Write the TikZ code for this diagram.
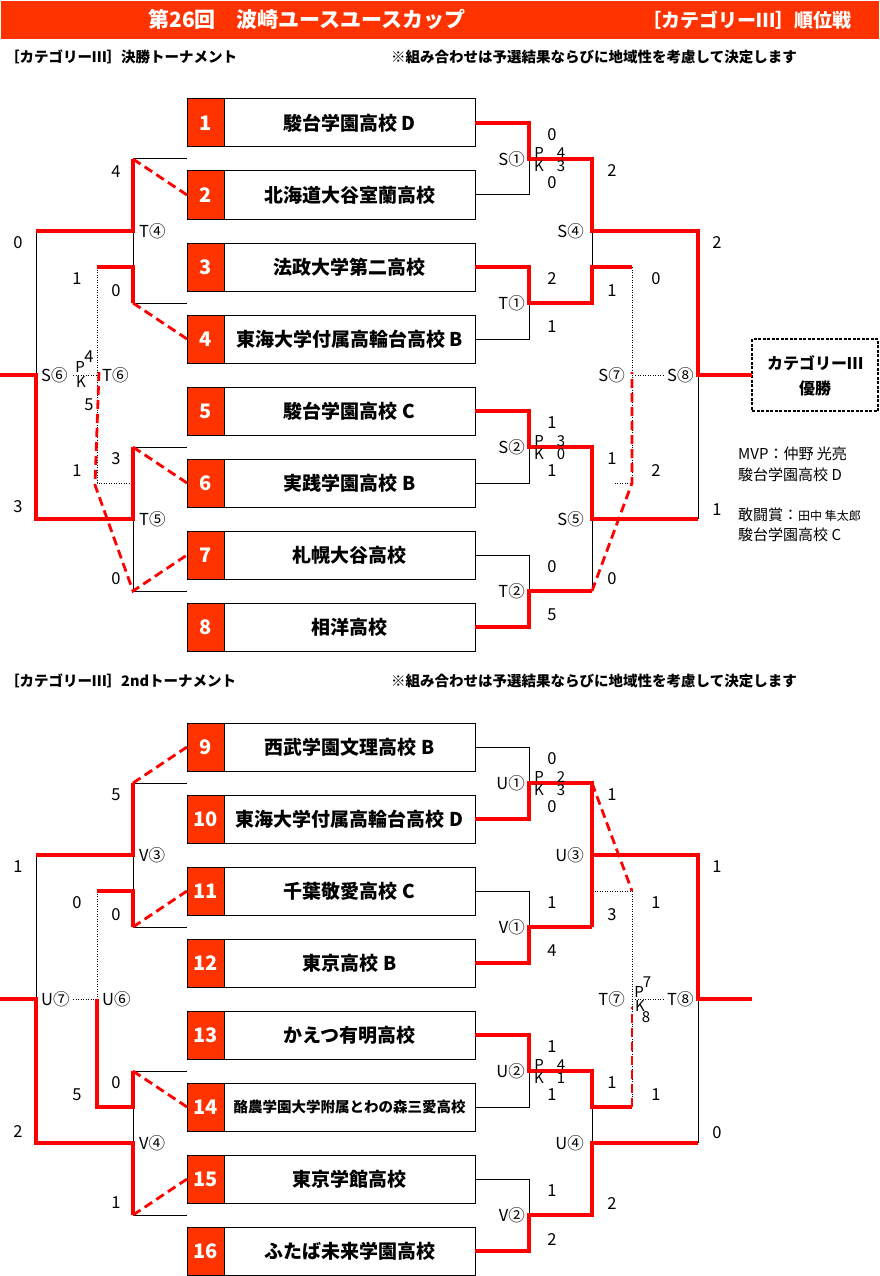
\documentclass[tikz,border=0pt]{standalone}
\usepackage{fontspec}
\setmainfont{Noto Sans CJK JP}
\definecolor{orr}{HTML}{FF3300}
\tikzset{
  bk/.style={draw=black, line width=1pt},
  rd/.style={draw=red, line width=3.2pt, line join=miter},
  rdash/.style={draw=red, line width=2.8pt, dash pattern=on 9pt off 5pt},
  dotl/.style={draw=black, line width=1pt, dash pattern=on 1pt off 1.5pt},
  tbox/.style={draw=black, line width=1pt, minimum width=288pt, minimum height=48pt, inner sep=0pt, outer sep=0pt},
  nbox/.style={draw=black, fill=orr, line width=1pt, minimum width=37pt, minimum height=48pt, inner sep=0pt, outer sep=0pt, text=white, font=\fontsize{20}{20}\selectfont\bfseries},
  tname/.style={inner sep=0pt, font=\fontsize{19}{19}\selectfont\bfseries},
  lbl/.style={inner sep=0pt, font=\fontsize{16.5}{16.5}\selectfont},
  sc/.style={inner sep=0pt, font=\fontsize{16.5}{16.5}\selectfont},
  pk/.style={inner sep=0pt, font=\fontsize{15}{15}\selectfont},
  info/.style={inner sep=0pt, anchor=west, font=\fontsize{15}{15}\selectfont},
}
\begin{document}
\begin{tikzpicture}[x=1pt,y=-1pt]
\useasboundingbox (0,0) rectangle (879,1276);
% title
\fill[orr] (1,1) rectangle (879,39);
\node[inner sep=0pt, text=white, font=\fontsize{21}{21}\selectfont\bfseries] (title) at (307,20) {第26回　波崎ユースユースカップ};
\node[inner sep=0pt, text=white, font=\fontsize{19}{19}\selectfont\bfseries, anchor=east] (title2) at (852,20) {［カテゴリーⅢ］順位戦};
\node[inner sep=0pt, anchor=west, font=\fontsize{14.5}{14.5}\selectfont\bfseries] (sub1) at (5,57) {［カテゴリーⅢ］決勝トーナメント};
\node[inner sep=0pt, anchor=west, font=\fontsize{14.5}{14.5}\selectfont\bfseries] (note1) at (391,57) {※組み合わせは予選結果ならびに地域性を考慮して決定します};
\node[inner sep=0pt, anchor=west, font=\fontsize{14.5}{14.5}\selectfont\bfseries] (sub2) at (5,681) {［カテゴリーⅢ］2ndトーナメント};
\node[inner sep=0pt, anchor=west, font=\fontsize{14.5}{14.5}\selectfont\bfseries] (note2) at (391,681) {※組み合わせは予選結果ならびに地域性を考慮して決定します};

% team boxes
\foreach \i/\cy/\nm in {1/123/{駿台学園高校 D},2/195/{北海道大谷室蘭高校},3/267/{法政大学第二高校},4/339/{東海大学付属高輪台高校 B},5/411/{駿台学園高校 C},6/483/{実践学園高校 B},7/555/{札幌大谷高校},8/627/{相洋高校},9/747/{西武学園文理高校 B},10/819/{東海大学付属高輪台高校 D},11/891/{千葉敬愛高校 C},12/963/{東京高校 B},13/1035/{かえつ有明高校},15/1179/{東京学館高校},16/1251/{ふたば未来学園高校}}{
  \node[tbox] (b\i) at (331,\cy) {};
  \node[nbox] (n\i) at (205.5,\cy) {\i};
  \node[tname] (t\i) at (349.5,\cy) {\nm};
}
\node[tbox] (b14) at (331,1107) {};
\node[nbox] (n14) at (205.5,1107) {14};
\node[inner sep=0pt, font=\fontsize{14.5}{14.5}\selectfont\bfseries] (t14) at (349.5,1107) {酪農学園大学附属とわの森三愛高校};

% champion box
\node[draw=black, line width=1.5pt, dash pattern=on 3pt off 1.5pt, minimum width=126pt, minimum height=72pt, inner sep=0pt, outer sep=0pt] (champ) at (815,375) {};
\node[inner sep=0pt, font=\fontsize{16}{16}\selectfont\bfseries] (champ1) at (815,363) {カテゴリーⅢ};
\node[inner sep=0pt, font=\fontsize{16}{16}\selectfont\bfseries] (champ2) at (815,388) {優勝};
\node[info] (mvp1) at (738,454) {MVP：仲野 光亮};
\node[info] (mvp2) at (738,475) {駿台学園高校 D};
\node[info] (fi1) at (738,515) {敢闘賞：{\fontsize{12}{12}\selectfont 田中 隼太郎}};
\node[info] (fi2) at (738,535) {駿台学園高校 C};

% ---------- coordinates top right
\coordinate (S1) at (529,159);
\coordinate (S4) at (592,231);
\coordinate (S4b) at (592,267);
\coordinate (T1) at (529,303);
\coordinate (T1w) at (592,303);
\coordinate (S7t) at (632,267);
\coordinate (S7b) at (632,483);
\coordinate (S7d) at (613,483);
\coordinate (S7m) at (635,375);
\coordinate (S7r) at (663,375);
\coordinate (S7e) at (632,372);
\coordinate (S8) at (698,375);
\coordinate (S8b) at (698,519);
\coordinate (S2) at (529,447);
\coordinate (S5) at (592,519);
\coordinate (T2) at (529,591);
\coordinate (T2w) at (592,591);
% top left
\coordinate (T4t) at (133,159);
\coordinate (T4) at (133,231);
\coordinate (T4c) at (133,267);
\coordinate (T4b) at (133,303);
\coordinate (S6t) at (36,231);
\coordinate (S6) at (36,375);
\coordinate (S6b) at (36,519);
\coordinate (S6in) at (0,375);
\coordinate (S6d) at (73,375);
\coordinate (T6t) at (97,267);
\coordinate (T6) at (97,375);
\coordinate (T6b) at (97,483);
\coordinate (T6r) at (133,483);
\coordinate (T6e) at (99,372);
\coordinate (T6f) at (95,485);
\coordinate (T5t) at (133,447);
\coordinate (T5) at (133,519);
\coordinate (T5b) at (133,591);
% bottom right
\coordinate (U1) at (529,783);
\coordinate (U1w) at (592,783);
\coordinate (U3) at (592,855);
\coordinate (T7t) at (592,891);
\coordinate (T7tr) at (632,891);
\coordinate (V1) at (529,927);
\coordinate (V1w) at (592,927);
\coordinate (T8) at (698,999);
\coordinate (T8b) at (698,1143);
\coordinate (T7) at (635,999);
\coordinate (T7r) at (663,999);
\coordinate (T7b) at (632,1107);
\coordinate (T7e) at (632,1007);
\coordinate (U2) at (529,1071);
\coordinate (U2w) at (592,1071);
\coordinate (U4t) at (592,1107);
\coordinate (U4) at (592,1143);
\coordinate (V2) at (529,1215);
\coordinate (V2w) at (592,1215);
% bottom left
\coordinate (V3t) at (133,783);
\coordinate (V3) at (133,855);
\coordinate (V3c) at (133,891);
\coordinate (V3b) at (133,927);
\coordinate (U7t) at (36,855);
\coordinate (U7) at (36,999);
\coordinate (U7b) at (36,1143);
\coordinate (U7in) at (0,999);
\coordinate (U7d) at (73,999);
\coordinate (U6t) at (97,891);
\coordinate (U6) at (97,999);
\coordinate (U6b) at (97,1107);
\coordinate (V4t) at (133,1071);
\coordinate (V4c) at (133,1107);
\coordinate (V4) at (133,1143);
\coordinate (V4b) at (133,1215);

% ---------- black lines
\draw[bk] (b2.east) -| (S1);
\draw[bk] (S4) -- (S4b);
\draw[bk] (b4.east) -| (T1);
\draw[bk] (S8) -- (S8b);
\draw[bk] (b6.east) -| (S2);
\draw[bk] (S5) -- (T2w);
\draw[bk] (b7.east) -| (T2);
\draw[bk] (T4t) -- ++(54,0);
\draw[bk] (T4b) -- ++(54,0);
\draw[bk] (T5t) -- ++(54,0);
\draw[bk] (T5b) -- ++(54,0);
\draw[bk] (T4) -- (T4c);
\draw[bk] (S6t) -- (S6);
\draw[bk] (T5) -- (T5b);
\draw[bk] (b9.east) -| (U1);
\draw[bk] (b11.east) -| (V1);
\draw[bk] (T8) -- (T8b);
\draw[bk] (b14.east) -| (U2);
\draw[bk] (U4t) -- (U4);
\draw[bk] (b15.east) -| (V2);
\draw[bk] (V3t) -- ++(54,0);
\draw[bk] (V3b) -- ++(54,0);
\draw[bk] (V4t) -- ++(54,0);
\draw[bk] (V4b) -- ++(54,0);
\draw[bk] (V3) -- (V3c);
\draw[bk] (U7t) -- (U7);
\draw[bk] (V4c) -- (V4);

% ---------- dotted lines
\draw[dotl] (S7t) -- (S7b) -- (S7d);
\draw[dotl] (S7m) -- (S7r);
\draw[dotl] (T6t) -- (T6b) -- (T6r);
\draw[dotl] (S6d) -- (T6);
\draw[dotl] (T7t) -- (T7tr) -- (T7b);
\draw[dotl] (T7) -- (T7r);
\draw[dotl] (U6t) -- (U6);
\draw[dotl] (U7d) -- (U6);

% ---------- red lines
\draw[rd] (b1.east) -| (S1) -| (S4) -| (S8) -- (champ.west);
\draw[rd] (b3.east) -| (T1) -- (T1w) -- (S4b) -- (S7t);
\draw[rd] (b5.east) -| (S2) -| (S5) -- (S8b);
\draw[rd] (b8.east) -| (T2) -- (T2w);
\draw[rd] (T4t) -- (T4) -- (S6t);
\draw[rd] (T6t) -- (T4c) -- (T4b);
\draw[rd] (S6in) -- (S6) -- (S6b) -- (T5) -- (T5t);
\draw[rd] (b10.east) -| (U1) -- (U1w) -- (V1w);
\draw[rd] (b12.east) -| (V1) -- (V1w);
\draw[rd] (U3) -| (T8) -- ++(54,0);
\draw[rd] (b13.east) -| (U2) -- (U2w) -- (U4t) -- (T7b);
\draw[rd] (b16.east) -| (V2) -- (V2w) -- (U4) -- (T8b);
\draw[rd] (V3t) -- (V3) -- (U7t);
\draw[rd] (U6t) -- (V3c) -- (V3b);
\draw[rd] (U6) -- (U6b) -- (V4c) -- (V4t);
\draw[rd] (U7in) -- (U7) -- (U7b) -- (V4) -- (V4b);

% ---------- red dashed lines
\draw[rdash] (T2w) -- (S7b) -- (S7e);
\draw[rdash] (T4t) -- (b2.west);
\draw[rdash] (T4b) -- (b4.west);
\draw[rdash] (T5t) -- (b6.west);
\draw[rdash] (T6e) -- (T6f) -- (T5b) -- (b7.west);
\draw[rdash] (U1w) -- (T7tr);
\draw[rdash] (T7b) -- (T7e);
\draw[rdash] (V3t) -- (b9.west);
\draw[rdash] (V3b) -- (b11.west);
\draw[rdash] (V4t) -- (b14.west);
\draw[rdash] (V4b) -- (b15.west);

% ---------- match labels
\node[lbl,anchor=east] (lS1) at (525,159) {S①};
\node[lbl,anchor=east] (lT1) at (525,303) {T①};
\node[lbl,anchor=east] (lS2) at (525,447) {S②};
\node[lbl,anchor=east] (lT2) at (525,591) {T②};
\node[lbl,anchor=east] (lS4) at (584,231) {S④};
\node[lbl,anchor=east] (lS5) at (584,519) {S⑤};
\node[lbl,anchor=east] (lS7) at (625,375) {S⑦};
\node[lbl,anchor=west] (lS8) at (667,375) {S⑧};
\node[lbl,anchor=west] (lT4) at (139,231) {T④};
\node[lbl,anchor=west] (lT5) at (139,519) {T⑤};
\node[lbl,anchor=west] (lS6) at (41,375) {S⑥};
\node[lbl,anchor=west] (lT6) at (102,375) {T⑥};
\node[lbl,anchor=east] (lU1) at (525,783) {U①};
\node[lbl,anchor=east] (lV1) at (525,927) {V①};
\node[lbl,anchor=east] (lU2) at (525,1071) {U②};
\node[lbl,anchor=east] (lV2) at (525,1215) {V②};
\node[lbl,anchor=east] (lU3) at (584,855) {U③};
\node[lbl,anchor=east] (lU4) at (584,1143) {U④};
\node[lbl,anchor=east] (lT7) at (625,999) {T⑦};
\node[lbl,anchor=west] (lT8) at (667,999) {T⑧};
\node[lbl,anchor=west] (lV3) at (139,855) {V③};
\node[lbl,anchor=west] (lV4) at (139,1143) {V④};
\node[lbl,anchor=west] (lU7) at (41,999) {U⑦};
\node[lbl,anchor=west] (lU6) at (102,999) {U⑥};

% ---------- scores
\foreach \x/\y/\s [count=\k] in {116/172/4,116/291/0,18/243/0,77/279/1,89/357/4,89/405/5,18/507/3,77/471/1,116/459/3,116/579/0,
 552/135/0,552/183/0,612/171/2,552/279/2,552/327/1,612/291/1,656/279/0,717/243/2,552/423/1,552/471/1,612/459/1,656/471/2,717/510/1,552/567/0,552/615/5,612/579/0,
 116/795/5,116/915/0,18/867/1,77/903/0,116/1083/0,77/1095/5,18/1131/2,116/1203/1,
 552/759/0,552/807/0,612/795/1,717/867/1,552/903/1,552/951/4,612/915/3,656/903/1,552/1047/1,552/1095/1,612/1083/1,656/1095/1,717/1133/0,552/1191/1,552/1239/2,612/1203/2}
  \node[sc] (sc\k) at (\x,\y) {\s};
% PK marks
\foreach \x/\y/\s [count=\k] in {539/153/P,561/153/4,539/166/K,561/166/3,539/441/P,561/441/3,539/454/K,561/454/0,
 80/367/P,81/382/K,539/777/P,561/777/2,539/790/K,561/790/3,539/1065/P,561/1065/4,539/1078/K,561/1078/1,
 647/982/7,639/992/P,640/1006/K,646/1017/8}
  \node[pk] (pk\k) at (\x,\y) {\s};
\end{tikzpicture}
\end{document}
